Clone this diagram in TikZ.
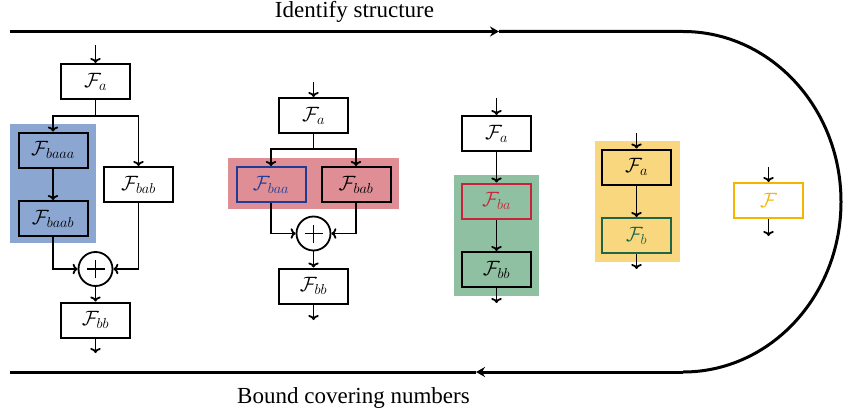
\documentclass[tikz,border=0pt]{standalone}
\usepackage{fontspec}
\setmainfont{Liberation Serif}
\usetikzlibrary{arrows.meta}
\definecolor{bluereg}{RGB}{140,166,210}
\definecolor{redreg}{RGB}{222,142,148}
\definecolor{greenreg}{RGB}{143,192,161}
\definecolor{yellowreg}{RGB}{248,215,126}
\definecolor{bdblue}{RGB}{30,60,150}
\definecolor{bdred}{RGB}{200,35,60}
\definecolor{bdgreen}{RGB}{30,100,70}
\definecolor{orangeF}{RGB}{245,180,0}
\begin{document}
\begin{tikzpicture}[x=1pt,y=-1pt,
  blk/.style={draw, line width=2pt, minimum width=69pt, minimum height=35pt, inner sep=0pt, font=\fontsize{20}{23}\selectfont},
  conn/.style={line width=1.8pt, -{To[length=5pt,width=10.5pt]}},
  plain/.style={line width=1.8pt},
  addc/.style={circle, draw, line width=1.8pt, minimum size=34pt, inner sep=0pt},
  loopline/.style={line width=3pt},
  looptip/.style={loopline, -{Stealth[length=9pt,width=10pt,inset=3pt]}},
  lbl/.style={font=\fontsize{23}{27}\selectfont, anchor=base, inner sep=0pt}]
\fill[white] (0,0) rectangle (843,412);
\useasboundingbox (0,0) rectangle (843,412);

% main loop
\coordinate (tl) at (10,31.5);
\coordinate (tm) at (499,31.5);
\coordinate (tr) at (683,31.5);
\coordinate (br) at (683,372);
\coordinate (bm) at (476,372);
\coordinate (bl) at (10,372);
\draw[looptip] (tl) -- (tm);
\draw[loopline] (tm) -- (tr) arc[start angle=90, end angle=-90, x radius=158pt, y radius=170.25pt];
\draw[looptip] (br) -- (bm);
\draw[loopline] (bm) -- (bl);
\node[lbl] (t1) at (354.5,17.5) {Identify structure};
\node[lbl] (t2) at (353.5,403) {Bound covering numbers};

% ---------- diagram 1
\fill[bluereg] (10,124) rectangle (96,243);
\coordinate (in1) at (95.5,45);
\node[blk] (a1) at (95.5,81.5) {$\mathcal{F}_a$};
\coordinate (s1) at (95.5,116);
\node[blk] (baaa1) at (53,150) {$\mathcal{F}_{baaa}$};
\node[blk] (baab1) at (53,218.5) {$\mathcal{F}_{baab}$};
\node[blk] (bab1) at (138.5,184.5) {$\mathcal{F}_{bab}$};
\node[addc] (p1) at (95.5,269) {};
\draw[plain] ([xshift=-9pt]p1.center) -- ([xshift=9pt]p1.center);
\draw[plain] ([yshift=-9pt]p1.center) -- ([yshift=9pt]p1.center);
\node[blk] (bb1) at (95.5,320) {$\mathcal{F}_{bb}$};
\coordinate (out1) at (95.5,353);
\draw[conn] (in1) -- (a1);
\draw[plain] (a1) -- (s1);
\draw[conn] (s1) -| (baaa1);
\draw[conn] (s1) -| (bab1);
\draw[conn] (baaa1) -- (baab1);
\draw[conn] (baab1) |- (p1);
\draw[conn] (bab1) |- (p1);
\draw[conn] (p1) -- (bb1);
\draw[conn] (bb1) -- (out1);

% ---------- diagram 2
\fill[redreg] (228,158) rectangle (399,209);
\coordinate (in2) at (313.5,82);
\node[blk] (a2) at (313.5,115.5) {$\mathcal{F}_a$};
\coordinate (s2) at (313.5,149);
\node[blk, draw=bdblue, text=bdblue] (baa2) at (271,184.5) {$\mathcal{F}_{baa}$};
\node[blk] (bab2) at (356,184.5) {$\mathcal{F}_{bab}$};
\node[addc] (p2) at (313.5,233.5) {};
\draw[plain] ([xshift=-9pt]p2.center) -- ([xshift=9pt]p2.center);
\draw[plain] ([yshift=-9pt]p2.center) -- ([yshift=9pt]p2.center);
\node[blk] (bb2) at (313.5,286) {$\mathcal{F}_{bb}$};
\coordinate (out2) at (313.5,320);
\draw[conn] (in2) -- (a2);
\draw[plain] (a2) -- (s2);
\draw[conn] (s2) -| (baa2);
\draw[conn] (s2) -| (bab2);
\draw[conn] (baa2) |- (p2);
\draw[conn] (bab2) |- (p2);
\draw[conn] (p2) -- (bb2);
\draw[conn] (bb2) -- (out2);

% ---------- diagram 3
\fill[greenreg] (454,175) rectangle (539,296);
\coordinate (in3) at (496.5,98);
\node[blk] (a3) at (496.5,133.5) {$\mathcal{F}_a$};
\node[blk, draw=bdred, text=bdred] (ba3) at (496.5,201) {$\mathcal{F}_{ba}$};
\node[blk] (bb3) at (496.5,269.5) {$\mathcal{F}_{bb}$};
\coordinate (out3) at (496.5,303);
\draw[conn] (in3) -- (a3);
\draw[conn] (a3) -- (ba3);
\draw[conn] (ba3) -- (bb3);
\draw[conn] (bb3) -- (out3);

% ---------- diagram 4
\fill[yellowreg] (595,141) rectangle (680,262);
\coordinate (in4) at (636.5,133);
\node[blk] (a4) at (636.5,167) {$\mathcal{F}_a$};
\node[blk, draw=bdgreen, text=bdgreen] (b4) at (636.5,235.5) {$\mathcal{F}_b$};
\coordinate (out4) at (636.5,269);
\draw[conn] (in4) -- (a4);
\draw[conn] (a4) -- (b4);
\draw[conn] (b4) -- (out4);

% ---------- diagram 5
\coordinate (in5) at (768.5,167);
\node[blk, draw=orangeF, text=orangeF] (f5) at (768.5,200.5) {$\mathcal{F}$};
\coordinate (out5) at (768.5,236);
\draw[conn] (in5) -- (f5);
\draw[conn] (f5) -- (out5);
\end{tikzpicture}
\end{document}
